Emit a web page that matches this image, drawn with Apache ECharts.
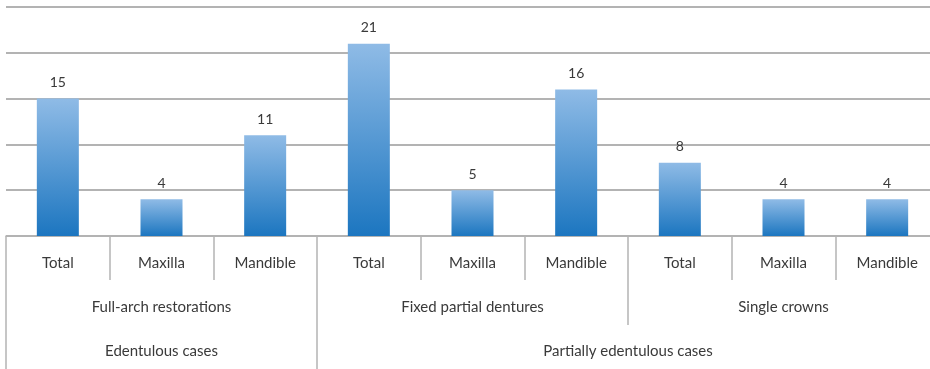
<!DOCTYPE html>
<html>
<head>
<meta charset="utf-8">
<script src="https://cdn.jsdelivr.net/npm/echarts@6/dist/echarts.min.js"></script>
<style>
  html, body { margin: 0; padding: 0; background: #fff; overflow: hidden; width: 930px; height: 369px; }
  /* the right-hand frame of the last column sits just past the visible edge */
  #chart { width: 939px; height: 369px; }
</style>
</head>
<body>
<div id="chart"></div>
<script>
// Implant restorations by arch, grouped by restoration type and case type
const subCategories = ['Total', 'Maxilla', 'Mandible', 'Total', 'Maxilla', 'Mandible', 'Total', 'Maxilla', 'Mandible'];
const restorationTypes = ['Full-arch restorations', 'Fixed partial dentures', 'Single crowns'];
const caseTypes = ['Edentulous cases', 'Partially edentulous cases'];
// centre of each case-type span and the boundaries between spans, in column units
const caseTypeCentres = [1.5, 6];
const caseTypeBounds = [0, 3, 9];
const counts = [15, 4, 11, 21, 5, 16, 8, 4, 4];

const FONT = 'Lato, "Open Sans", sans-serif';
const GRID_GREY = '#9a9a9a';
const SEP_GREY = '#b4b4b4';
const TEXT = '#3a3a3a';

const chart = echarts.init(document.getElementById('chart'));
chart.setOption({
  animation: false,
  grid: { left: 6, top: 7, right: 0, bottom: 133, containLabel: false },
  xAxis: [
    {
      type: 'category',
      data: subCategories,
      position: 'bottom',
      axisLine: { show: true, lineStyle: { color: SEP_GREY, width: 1.5 } },
      axisTick: { show: true, length: 44, interval: 0, lineStyle: { color: SEP_GREY, width: 1.5 } },
      axisLabel: { margin: 20, interval: 0, fontFamily: FONT, fontSize: 15, color: TEXT }
    },
    {
      type: 'category',
      data: restorationTypes,
      position: 'bottom',
      axisLine: { show: false },
      axisTick: { show: true, length: 89, interval: 0, lineStyle: { color: SEP_GREY, width: 1.5 } },
      axisLabel: { margin: 64, interval: 0, fontFamily: FONT, fontSize: 15, color: TEXT }
    },
    {
      type: 'value',
      min: 0,
      max: 9,
      position: 'bottom',
      splitLine: { show: false },
      axisLine: { show: false },
      axisTick: { show: true, length: 140, customValues: caseTypeBounds, lineStyle: { color: SEP_GREY, width: 1.5 } },
      axisLabel: {
        margin: 108,
        customValues: caseTypeCentres,
        fontFamily: FONT, fontSize: 15, color: TEXT,
        formatter: function (v) {
          const i = caseTypeCentres.indexOf(v);
          return i >= 0 ? caseTypes[i] : '';
        }
      }
    }
  ],
  yAxis: {
    type: 'value',
    min: 0,
    max: 25,
    interval: 5,
    axisLine: { show: false },
    axisTick: { show: false },
    axisLabel: { show: false },
    splitLine: { show: true, lineStyle: { color: GRID_GREY, width: 1.5 } }
  },
  series: [{
    type: 'bar',
    xAxisIndex: 0,
    data: counts,
    barWidth: 42,
    itemStyle: {
      color: new echarts.graphic.LinearGradient(0, 0, 0, 1, [
        { offset: 0, color: '#8fbbe6' },
        { offset: 1, color: '#1c76c0' }
      ])
    },
    label: {
      show: true,
      position: 'top',
      distance: 9,
      fontFamily: FONT,
      fontSize: 14,
      color: TEXT
    }
  }]
});
</script>
</body>
</html>
